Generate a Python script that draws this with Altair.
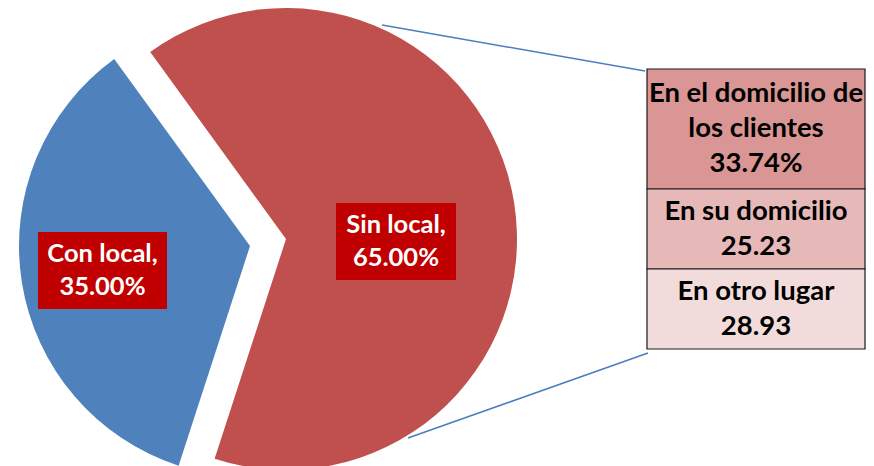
import altair as alt
import pandas as pd

# ---------------- data ----------------
pie_categories = ["Sin local", "Con local"]
pie_values = [65.00, 35.00]
pie_colors = ["#C0504D", "#4F81BD"]

detail_name_lines = [["En el domicilio de", "los clientes"], ["En su domicilio"], ["En otro lugar"]]
detail_values = [33.74, 25.23, 28.93]
detail_suffix = ["%", "", ""]
detail_colors = ["#D99694", "#E6B9B8", "#F2DCDB"]

# ---------------- tables ----------------
pie_df = pd.DataFrame({
    "category": pie_categories,
    "value": pie_values,
    "order": list(range(len(pie_categories))),
})

detail_df = pd.DataFrame({
    "name": ["\n".join(n) for n in detail_name_lines],
    "value": detail_values,
    "label": ["\n".join(n + [f"{v:.2f}{s}"]) for n, v, s in zip(detail_name_lines, detail_values, detail_suffix)],
    "nlines": [len(n) + 1 for n in detail_name_lines],
    "order": list(range(len(detail_values))),
})

# ---------------- layout / style ----------------
FONT = "Lato"
W, H = 858, 458
R = 231
centers = {"Sin local": (278, 231), "Con local": (242, 238)}
label_boxes = {"Sin local": (328, 448, 195, 272), "Con local": (30, 159, 224, 301)}
PIE_LABEL_LH = 33
theta_scale = alt.Scale(domain=[0, 100], range=[-0.6283, 5.6549], zero=False, nice=False)
color_scale = alt.Scale(domain=pie_categories, range=pie_colors)


def pie_base():
    return (
        alt.Chart(pie_df)
        .transform_window(cum="sum(value)", sort=[alt.SortField("order")], frame=[None, 0])
        .transform_calculate(start="datum.cum - datum.value")
    )


layers = []
for cat in pie_categories:
    cx, cy = centers[cat]
    layers.append(
        pie_base()
        .transform_filter(alt.datum.category == cat)
        .mark_arc(outerRadius=R)
        .encode(
            theta=alt.Theta("start:Q", scale=theta_scale),
            theta2="cum:Q",
            color=alt.Color("category:N", scale=color_scale, legend=None),
            x=alt.value(cx),
            y=alt.value(cy),
        )
    )

for cat in pie_categories:
    x0, x1, y0, y1 = label_boxes[cat]
    base = alt.Chart(pie_df).transform_filter(alt.datum.category == cat)
    layers.append(
        base.mark_rect(color="#C00000").encode(
            x=alt.value(x0), x2=alt.value(x1), y=alt.value(y0), y2=alt.value(y1)
        )
    )
    layers.append(
        base.transform_calculate(
            lab="datum.category + ',\\n' + format(datum.value, '.2f') + '%'"
        )
        .mark_text(
            font=FONT, fontSize=25.5, fontWeight="bold", color="white",
            lineBreak="\n", lineHeight=PIE_LABEL_LH, align="center", baseline="middle",
        )
        .encode(text="lab:N", x=alt.value((x0 + x1) / 2), y=alt.value((y0 + y1) / 2 - PIE_LABEL_LH / 2))
    )

# connector lines
line_data = alt.Data(values=[{}])
layers.append(
    alt.Chart(line_data).mark_rule(color="#4A7EBF", strokeWidth=1.5).encode(
        x=alt.value(374), x2=alt.value(637), y=alt.value(17), y2=alt.value(63)
    )
)
layers.append(
    alt.Chart(line_data).mark_rule(color="#4A7EBF", strokeWidth=1.5).encode(
        x=alt.value(400), x2=alt.value(640), y=alt.value(430), y2=alt.value(345)
    )
)

# detail stack
BOX_X0, BOX_X1 = 639, 857
Y_TOP, Y_BOT = 61, 341
total_lines = int(detail_df["nlines"].sum())
unit_px = (Y_BOT - Y_TOP) / total_lines
DETAIL_LH = 35
y_scale = alt.Scale(domain=[0, total_lines], range=[Y_TOP, Y_BOT], zero=False, nice=False)
detail_base = (
    alt.Chart(detail_df)
    .transform_window(y1="sum(nlines)", sort=[alt.SortField("order")], frame=[None, 0])
    .transform_calculate(
        y0="datum.y1 - datum.nlines",
        ym=f"datum.y1 - datum.nlines / 2 - (datum.nlines - 1) * {DETAIL_LH / (2 * unit_px)}",
    )
)
layers.append(
    detail_base.mark_rect(stroke="#1a1a1a", strokeWidth=1.2).encode(
        x=alt.value(BOX_X0),
        x2=alt.value(BOX_X1),
        y=alt.Y("y0:Q", scale=y_scale, axis=None),
        y2="y1:Q",
        fill=alt.Fill("name:N", scale=alt.Scale(domain=detail_df["name"].tolist(), range=detail_colors), legend=None),
    )
)
layers.append(
    detail_base.mark_text(
        font=FONT, fontSize=27.5, fontWeight="bold", color="black",
        lineBreak="\n", lineHeight=DETAIL_LH, align="center", baseline="middle",
    ).encode(
        x=alt.value((BOX_X0 + BOX_X1) / 2),
        y=alt.Y("ym:Q", scale=y_scale, axis=None),
        text="label:N",
    )
)

chart = (
    alt.layer(*layers)
    .resolve_scale(color="independent", fill="independent")
    .properties(width=W, height=H, padding=0, autosize=alt.AutoSizeParams(type="none"), background="white")
    .configure_view(stroke=None)
)

chart.save("out.html", embed_options={"renderer": "svg", "actions": False})
